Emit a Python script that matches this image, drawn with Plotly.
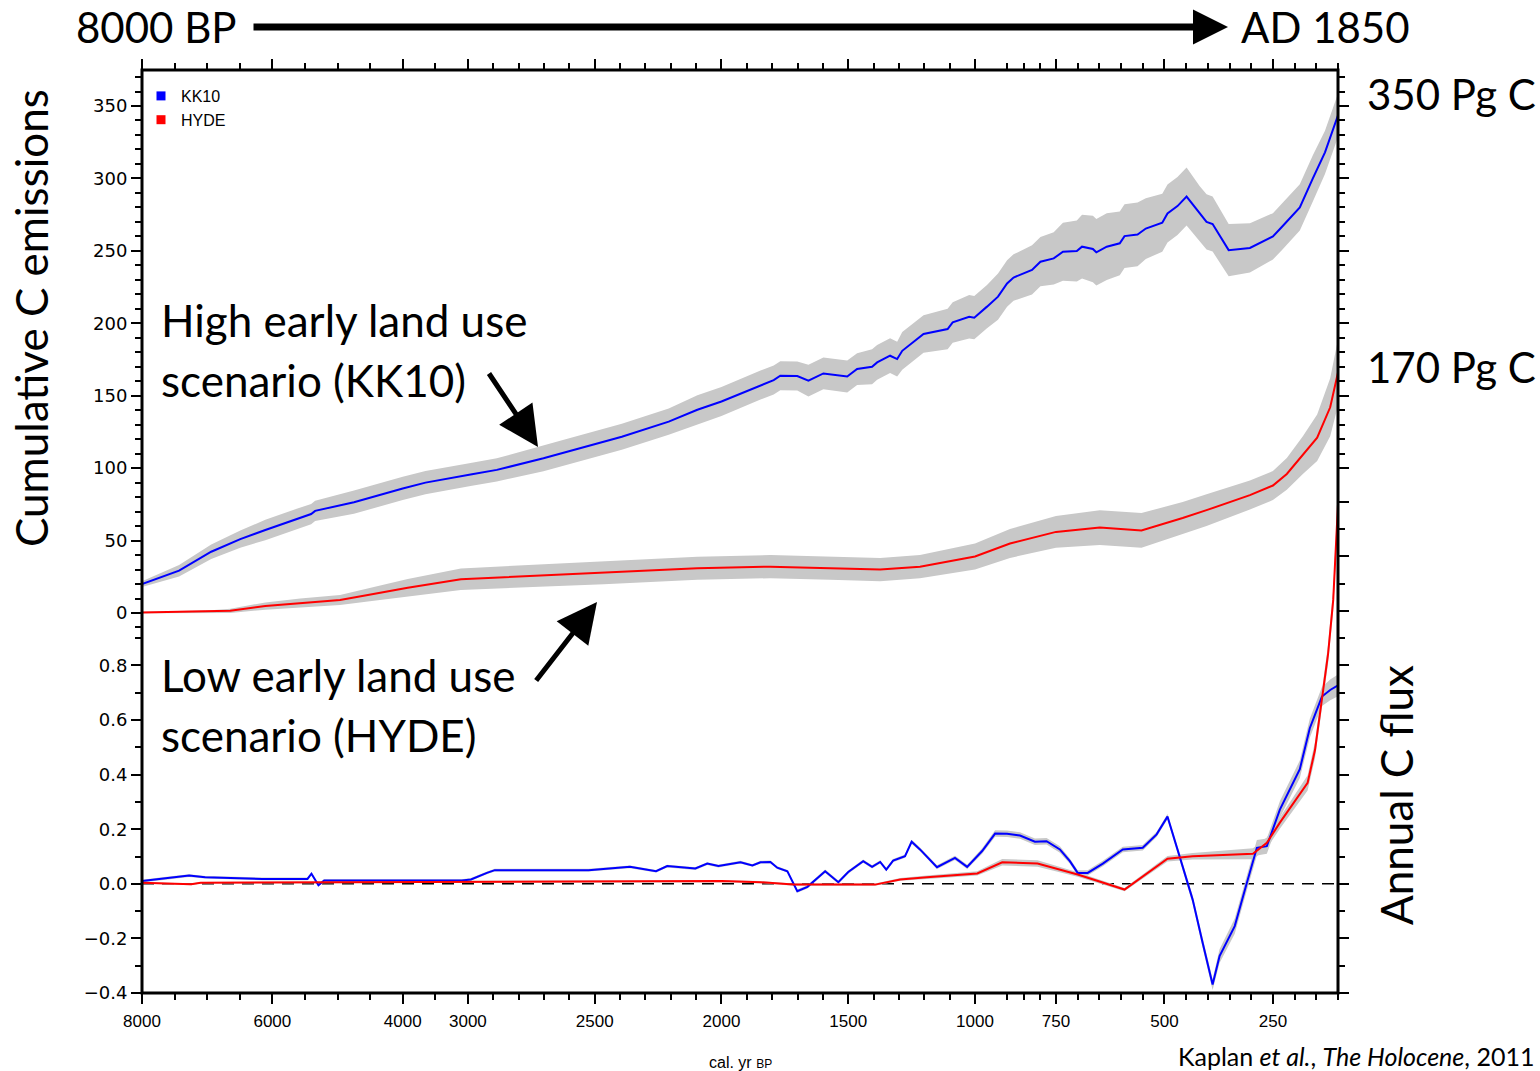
import numpy as np
import plotly.graph_objects as go

# ---------------- data ----------------
# Cumulative emissions, KK10 scenario (Pg C)
KK10_CUM_YEARS = [8000, 7723, 7431, 6938, 6492, 6108, 5725, 5405, 5344, 4748, 4000, 3651, 2984, 2886,
                  2702, 2604, 2393, 2208, 2095, 2000, 1846, 1794, 1768, 1701, 1657, 1598, 1504, 1465,
                  1406, 1386, 1335, 1307, 1287, 1203, 1108, 1088, 1023, 1003, 963, 929, 901, 881, 824,
                  798, 757, 734, 702, 690, 665, 657, 633, 603, 592, 562, 543, 505, 493, 470, 449, 419,
                  403, 389, 352, 303, 250, 229, 188, 158, 130, 100]
KK10_CUM = [20.0, 24.5, 29.2, 42.3, 51.0, 57.3, 63.5, 68.3, 70.5, 76.5, 86.0, 90.0, 95.8, 98.8,
            106.8, 111.4, 121.7, 132.1, 140.3, 146.0, 157.4, 160.8, 163.8, 163.6, 160.4, 165.4, 163.3, 168.4,
            170.0, 173.0, 177.6, 175.3, 181.0, 192.6, 196.0, 200.6, 204.5, 203.9, 211.5, 218.4, 227.5, 231.6, 236.8,
            242.5, 244.8, 249.4, 249.9, 252.9, 251.3, 249.0, 252.9, 255.2, 260.2, 261.3, 265.4, 269.4, 275.8, 280.9, 287.5, 275.8,
            270.0, 268.5, 250.5, 252.0, 260.0, 266.6, 280.0, 300.0, 318.0, 343.6]
KK10_CUM_ERR = [2, 3, 4, 5, 6, 7, 7, 7, 7, 8, 8, 8, 8, 8,
                9, 9, 9, 9, 10, 10, 10, 10, 10, 10, 11, 11, 11, 11,
                12, 12, 12, 12, 13, 13, 14, 14, 15, 15, 15, 16, 16, 16, 17,
                17, 18, 20, 21, 22, 23, 23, 23, 22, 22, 22, 21, 20, 20, 20, 20, 19,
                19, 19, 18, 17, 16, 16, 16, 16, 15, 15]

# Cumulative emissions, HYDE scenario (Pg C)
HYDE_CUM_YEARS = [8000, 6938, 6646, 6108, 5573, 4962, 4535, 3923, 3108, 2744, 2464, 2095, 1807, 1571,
                  1374, 1217, 1000, 892, 750, 649, 553, 458, 403, 303, 250, 218, 181, 148, 118, 100]
HYDE_CUM = [0.3, 0.9, 1.5, 4.8, 7.0, 9.0, 12.4, 17.5, 23.3, 25.5, 27.8, 30.9, 32.0, 31.0,
            30.0, 32.0, 39.0, 48.0, 56.0, 59.0, 57.0, 65.6, 71.0, 81.4, 88.0, 96.0, 109.0, 121.0, 142.0, 166.0]
HYDE_CUM_ERR = [0.5, 1, 1.5, 2.5, 3, 3.5, 4.5, 6, 7.5, 7.5, 8, 8, 8, 8,
                8, 8, 9, 10, 11, 12, 12, 11, 11, 10, 10, 11, 13, 16, 20, 23]

# Annual flux, KK10 scenario (Pg C / yr)
KK10_FLUX_YEARS = [8000, 7723, 7277, 7031, 6154, 5461, 5400, 5293, 5206, 3092, 2988, 2925, 2894, 2524,
                   2361, 2258, 2214, 2103, 2056, 2012, 1925, 1878, 1846, 1807, 1780, 1740, 1701, 1661,
                   1591, 1539, 1500, 1441, 1406, 1374, 1350, 1323, 1276, 1250, 1217, 1150, 1079, 1031,
                   978, 938, 901, 861, 815, 779, 741, 718, 700, 677, 642, 596, 550, 518, 493, 470,
                   435, 412, 389, 373, 338, 310, 287, 264, 234, 188, 165, 137, 118, 100]
KK10_FLUX = [0.010, 0.018, 0.030, 0.024, 0.018, 0.018, 0.037, -0.005, 0.012, 0.012, 0.016, 0.040, 0.050, 0.050,
             0.062, 0.046, 0.065, 0.056, 0.074, 0.065, 0.079, 0.067, 0.079, 0.080, 0.059, 0.046, -0.027, -0.011,
             0.046, 0.006, 0.043, 0.083, 0.062, 0.080, 0.052, 0.085, 0.101, 0.154, 0.126, 0.061, 0.095, 0.062,
             0.120, 0.184, 0.183, 0.177, 0.154, 0.156, 0.126, 0.083, 0.040, 0.040, 0.074, 0.126, 0.132, 0.181, 0.246, 0.126,
             -0.058, -0.216, -0.369, -0.265, -0.155, 0.004, 0.132, 0.138, 0.272, 0.420, 0.570, 0.686, 0.710, 0.727]
KK10_FLUX_ERR = [0.005, 0.005, 0.005, 0.005, 0.005, 0.005, 0.005, 0.005, 0.005, 0.005, 0.005, 0.005, 0.005, 0.005,
                 0.005, 0.005, 0.005, 0.005, 0.005, 0.005, 0.005, 0.005, 0.005, 0.005, 0.005, 0.005, 0.006, 0.006,
                 0.006, 0.006, 0.006, 0.006, 0.006, 0.006, 0.006, 0.006, 0.006, 0.007, 0.007, 0.007, 0.008, 0.008,
                 0.010, 0.012, 0.012, 0.012, 0.012, 0.012, 0.012, 0.010, 0.010, 0.010, 0.010, 0.010, 0.010, 0.010, 0.010, 0.012,
                 0.015, 0.018, 0.020, 0.025, 0.028, 0.028, 0.028, 0.028, 0.030, 0.032, 0.035, 0.035, 0.038, 0.040]

# Annual flux, HYDE scenario (Pg C / yr)
HYDE_FLUX_YEARS = [8000, 7246, 7100, 5000, 3000, 2500, 2000, 1846, 1717, 1394, 1295, 1190, 993, 916,
                   807, 700, 592, 493, 435, 296, 264, 234, 188, 170, 153, 137, 123, 111, 100]
HYDE_FLUX = [0.004, -0.002, 0.004, 0.006, 0.007, 0.009, 0.010, 0.006, -0.003, -0.003, 0.016, 0.024, 0.038, 0.079,
             0.074, 0.034, -0.021, 0.092, 0.101, 0.110, 0.150, 0.224, 0.330, 0.370, 0.490, 0.686, 0.840, 1.040, 1.390]
HYDE_FLUX_ERR = [0.003, 0.003, 0.003, 0.004, 0.004, 0.004, 0.004, 0.004, 0.004, 0.004, 0.005, 0.006, 0.008, 0.012,
                 0.012, 0.008, 0.006, 0.010, 0.012, 0.020, 0.020, 0.022, 0.025, 0.028, 0.030, 0.032, 0.035, 0.040, 0.045]

# Axis ticks (cal. yr BP)
X_MAJOR_YEARS = [8000, 6000, 4000, 3000, 2500, 2000, 1500, 1000, 750, 500, 250]
X_MINOR_YEARS = ([7500, 7000, 6500, 5500, 5000, 4500, 3500]
                 + [y for y in range(2900, 1000, -100) if y not in (2500, 2000, 1500)]
                 + [900, 850, 800, 700, 650, 600, 550, 450, 400, 350, 300, 200, 150, 100])
CUM_TICKS = [0, 50, 100, 150, 200, 250, 300, 350]
FLUX_TICKS = [-0.4, -0.2, 0.0, 0.2, 0.4, 0.6, 0.8]
FLUX_TICKS_RIGHT = [-0.4, -0.2, 0.0, 0.2, 0.4, 0.6, 0.8, 1.0, 1.2, 1.4]

# Piecewise-linear time scale of the original figure (year BP -> fraction of axis)
AXIS_YEARS = [8000, 3000, 1000, 750, 100]
AXIS_POS = [0.0, 0.2725, 0.6965, 0.7642, 1.0]


def xs(years):
    return np.interp(-np.asarray(years, float), -np.asarray(AXIS_YEARS, float), AXIS_POS)


# ---------------- figure ----------------
W, H = 1540, 1071
L, R, T, B = 142, 1338, 70, 993   # plot-area edges in page pixels


def px(x):
    return (x - L) / (R - L)


def py(y):
    return (B - y) / (B - T)


GRAY = "rgb(200,200,200)"
fig = go.Figure()


def band(years, vals, err, yaxis):
    x = xs(years)
    v = np.asarray(vals, float)
    e = np.asarray(err, float)
    fig.add_trace(go.Scatter(x=np.concatenate([x, x[::-1]]),
                             y=np.concatenate([v - e, (v + e)[::-1]]),
                             fill="toself", fillcolor=GRAY, line=dict(width=0, color=GRAY),
                             mode="lines", hoverinfo="skip", showlegend=False, yaxis=yaxis))


band(KK10_CUM_YEARS, KK10_CUM, KK10_CUM_ERR, "y")
band(HYDE_CUM_YEARS, HYDE_CUM, HYDE_CUM_ERR, "y")
band(KK10_FLUX_YEARS, KK10_FLUX, KK10_FLUX_ERR, "y2")
band(HYDE_FLUX_YEARS, HYDE_FLUX, HYDE_FLUX_ERR, "y2")

fig.add_trace(go.Scatter(x=xs(KK10_CUM_YEARS), y=KK10_CUM, mode="lines",
                         line=dict(color="#0000ff", width=2), showlegend=False, yaxis="y"))
fig.add_trace(go.Scatter(x=xs(HYDE_CUM_YEARS), y=HYDE_CUM, mode="lines",
                         line=dict(color="#ff0000", width=2), showlegend=False, yaxis="y"))
fig.add_trace(go.Scatter(x=xs(KK10_FLUX_YEARS), y=KK10_FLUX, mode="lines",
                         line=dict(color="#0000ff", width=2), showlegend=False, yaxis="y2"))
fig.add_trace(go.Scatter(x=xs(HYDE_FLUX_YEARS), y=HYDE_FLUX, mode="lines",
                         line=dict(color="#ff0000", width=2), showlegend=False, yaxis="y2"))

# legend entries
fig.add_trace(go.Scatter(x=[None], y=[None], mode="markers", name="KK10",
                         marker=dict(symbol="square", size=9, color="#0000ff")))
fig.add_trace(go.Scatter(x=[None], y=[None], mode="markers", name="HYDE",
                         marker=dict(symbol="square", size=9, color="#ff0000")))
# make mirror axes exist
for xa, ya in (("x2", "y"), ("x", "y3"), ("x", "y4")):
    fig.add_trace(go.Scatter(x=[None], y=[None], xaxis=xa, yaxis=ya, showlegend=False, hoverinfo="skip"))

TICK = dict(ticks="outside", ticklen=10, tickwidth=1.5, tickcolor="black",
            showgrid=False, zeroline=False, showline=False)
MINOR = dict(ticks="outside", ticklen=6, tickwidth=1.5, tickcolor="black", showgrid=False)

XFONT = dict(family="Liberation Sans, Arial", size=17, color="black")
YFONT = dict(family="DejaVu Sans, Liberation Sans, Arial", size=18, color="black")

cum_per_px = 350 / (613 - 106)
cum_range = [-(B - 613) * cum_per_px, 350 + (106 - T) * cum_per_px]
flux_per_px = 1.2 / (B - 665.4)
flux_range = [-0.4, 0.8 + (665.4 - T) * flux_per_px]

fig.update_layout(
    width=W, height=H,
    margin=dict(l=L, r=W - R, t=T, b=H - B, pad=0),
    paper_bgcolor="white", plot_bgcolor="white",
    showlegend=True,
    legend=dict(x=px(141), y=py(79), xanchor="left", yanchor="top",
                font=dict(family="Liberation Sans, Arial", size=16, color="black"),
                bgcolor="rgba(0,0,0,0)", itemwidth=30, tracegroupgap=0),
    xaxis=dict(domain=[0, 1], range=[0, 1], tickmode="array", tickvals=xs(X_MAJOR_YEARS),
               ticktext=[str(y) for y in X_MAJOR_YEARS], tickfont=XFONT,
               minor=dict(tickvals=xs(X_MINOR_YEARS), **MINOR), ticklabelstandoff=3, anchor="y", **TICK),
    xaxis2=dict(range=[0, 1], overlaying="x", side="top", tickmode="array", tickvals=xs(X_MAJOR_YEARS),
                showticklabels=False, minor=dict(tickvals=xs(X_MINOR_YEARS), **MINOR), anchor="y", **TICK),
    yaxis=dict(domain=[0, 1], range=cum_range, tickmode="array", tickvals=CUM_TICKS,
               ticktext=[str(v) for v in CUM_TICKS], tickfont=YFONT,
               minor=dict(tickvals=list(range(-10, 371, 10)), **MINOR), anchor="x", **TICK),
    yaxis2=dict(range=flux_range, overlaying="y", side="left", tickmode="array", tickvals=FLUX_TICKS,
                ticktext=[("\u2212" if v < 0 else "") + f"{abs(v):.1f}" for v in FLUX_TICKS], tickfont=YFONT,
                minor=dict(tickvals=[round(-0.3 + 0.1 * i, 1) for i in range(13)], **MINOR), anchor="x", **TICK),
    yaxis3=dict(range=cum_range, overlaying="y", side="right", tickmode="array", tickvals=CUM_TICKS[2:],
                showticklabels=False, minor=dict(tickvals=list(range(110, 371, 10)), **MINOR), anchor="x", **TICK),
    yaxis4=dict(range=flux_range, overlaying="y", side="right", tickmode="array", tickvals=FLUX_TICKS_RIGHT,
                showticklabels=False, minor=dict(tickvals=[round(-0.3 + 0.2 * i, 1) for i in range(9)], **MINOR),
                anchor="x", **TICK),
)

# frame and zero line
fig.add_shape(type="rect", xref="paper", yref="paper", x0=0, x1=1, y0=0, y1=1,
              line=dict(color="black", width=3), layer="above")
fig.add_shape(type="line", xref="paper", yref="y2", x0=0, x1=1, y0=0, y1=0,
              line=dict(color="black", width=1.5, dash="12px,8px"), layer="below")

BIG = dict(family="Lato, Open Sans, sans-serif", size=42, color="black")
LABEL = dict(family="Lato, Open Sans, sans-serif", size=44, color="black")


def text(t, x, y, font=BIG, xanchor="left", angle=0):
    fig.add_annotation(text=t, xref="paper", yref="paper", x=px(x), y=py(y), xanchor=xanchor,
                       yanchor="middle", showarrow=False, font=font, textangle=angle)


text("8000 BP", 74, 27)
text("AD 1850", 1239, 27)
text("350 Pg C", 1365, 94)
text("170 Pg C", 1365, 367)
text("High early land use", 159, 320, font=LABEL)
text("scenario (KK10)", 159, 380, font=LABEL)
text("Low early land use", 159, 675, font=LABEL)
text("scenario (HYDE)", 159, 735, font=LABEL)
text("Cumulative C emissions", 31, 318, font=LABEL, xanchor="center", angle=-90)
text("Annual C flux", 1396, 795, font=LABEL, xanchor="center", angle=-90)
text("Kaplan <i>et al.</i>, <i>The Holocene</i>, 2011", 1176, 1056,
     font=dict(family="Lato, Open Sans, sans-serif", size=25, color="black"))
text("cal. yr <span style='font-size:12px'>BP</span>", 740, 1062, xanchor="center",
     font=dict(family="Liberation Sans, Arial", size=16, color="black"))


def arrow(x0, y0, x1, y1, width, size):
    fig.add_annotation(text="", xref="paper", yref="paper", x=px(x1), y=py(y1),
                       ax=x0 - x1, ay=y0 - y1, axref="pixel", ayref="pixel",
                       showarrow=True, arrowhead=2, arrowwidth=width, arrowsize=size,
                       arrowcolor="black", standoff=0, startstandoff=0)


arrow(252, 27, 1228, 27, 7, 1.0)
arrow(488, 372, 538, 447, 5, 1.6)
arrow(535, 682, 597, 602, 5, 1.6)

fig.write_html("out.html")
